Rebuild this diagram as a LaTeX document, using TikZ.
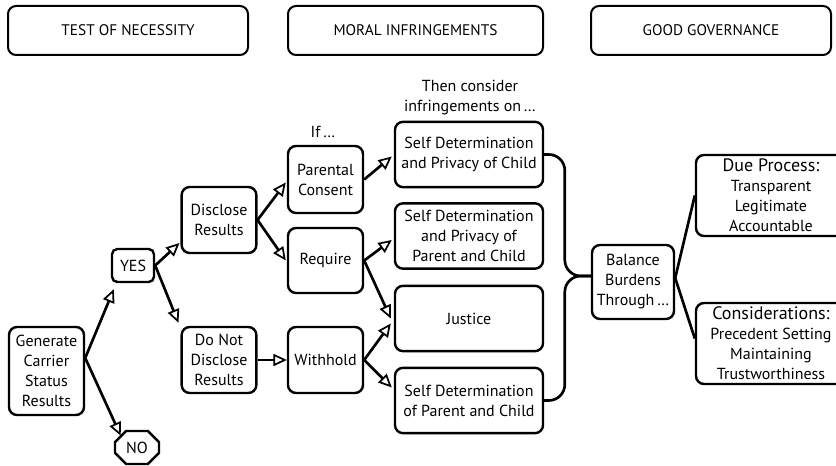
\documentclass[tikz,border=0pt]{standalone}
\usepackage{fontspec}
\setmainfont{PT Sans}
\usepackage{tikz}
\usetikzlibrary{arrows.meta,shapes.misc,calc}
\tikzset{every picture/.style={line width=0.75pt}}
\tikzset{
  box/.style={draw, rounded corners=6pt, line width=1.8pt, align=center, inner sep=1pt, font=\fontsize{12}{15}\selectfont},
  headbox/.style={box, line width=1.5pt, minimum width=180pt, minimum height=36.75pt, font=\fontsize{11.5}{14}\selectfont},
  smallbox/.style={box, minimum width=56pt, minimum height=49.5pt},
  widebox/.style={box, minimum width=111pt, minimum height=49pt},
  govbox/.style={box, minimum width=112.5pt, minimum height=60.75pt},
  link/.style={line width=2pt, -{Triangle[open,length=10pt,width=9pt,line width=1.3pt]}},
  bracket/.style={line width=2pt, rounded corners=12pt},
  plainlabel/.style={align=center, inner sep=0.75pt, font=\fontsize{12}{15}\selectfont},
}

\begin{document}
\begin{tikzpicture}[x=0.75pt,y=0.75pt,yscale=-1,xscale=1]
\useasboundingbox (0,0) rectangle (836,466);

% Header Nodes
\node [headbox] (test) at (128,30.5) {TEST OF NECESSITY};
\node [headbox, minimum width=191.25pt] (moral) at (415.5,30.5) {MORAL INFRINGEMENTS};
\node [headbox] (good) at (711,30.5) {GOOD GOVERNANCE};

% Test of necessity
\node [box, minimum width=56.25pt, minimum height=66pt] (gen) at (46.5,371) {Generate\\Carrier\\Status\\Results};
\node [box, rounded corners=4pt, minimum width=31.5pt, minimum height=24.75pt] (yes) at (133,265.5) {YES};
\node [draw, line width=1.8pt, chamfered rectangle, chamfered rectangle xsep=5pt, minimum width=31.5pt, minimum height=24.75pt, font=\fontsize{12}{15}\selectfont] (no) at (137,447.5) {NO};
\node [smallbox] (disc) at (219,220) {Disclose\\Results};
\node [smallbox] (dnd) at (219,360) {Do Not\\Disclose\\Results};

% Conditions
\node [plainlabel] (iflabel) at (323,132) {If\,\ldots};
\node [smallbox, minimum width=56.25pt, minimum height=50.25pt] (par) at (325.5,179.5) {Parental\\Consent};
\node [smallbox, minimum width=56.25pt, minimum height=48.75pt] (req) at (325.5,260.5) {Require};
\node [smallbox, minimum width=56.25pt] (wh) at (325.5,360) {Withhold};

% Moral infringements
\node [plainlabel] (thenlabel) at (470,98) {Then consider\\infringements on\,\ldots};
\node [widebox] (sdpc) at (469,154.5) {Self Determination\\and Privacy of Child};
\node [widebox] (sdppc) at (469,236) {Self Determination\\and Privacy of\\Parent and Child};
\node [widebox] (just) at (469,318.5) {Justice};
\node [widebox] (sdopc) at (469,400.5) {Self Determination\\of Parent and Child};

% Good governance
\node [box, minimum width=61.5pt, minimum height=55.5pt] (bal) at (633,282) {Balance\\Burdens\\Through\,\ldots};
\node [govbox] (due) at (771,195.5) {{\fontsize{13.5}{16}\selectfont Due Process:}\\Transparent\\Legitimate\\Accountable};
\node [govbox] (cons) at (771,343.5) {{\fontsize{13.5}{16}\selectfont Considerations:}\\Precedent Setting\\Maintaining\\Trustworthiness};

% Arrows
\coordinate (genout) at ($(gen.east)+(0,-13)$);
\draw [link] (genout) -- ($(yes.south west)+(3,6)$);
\draw [link] (genout) -- ($(no.north west)+(1,0)$);
\draw [link] (yes.east) -- ($(disc.west)+(-1,23)$);
\draw [link] (yes.east) -- ($(dnd.north west)+(-2,-3)$);
\draw [link] (disc.east) -- ($(par.west)+(-1,3)$);
\draw [link] (disc.east) -- ($(req.west)+(-1,0)$);
\draw [link] (dnd.east) -- (wh.west);
\draw [link] (par.east) -- ($(sdpc.west)+(-2,2)$);
\draw [link] (req.east) -- ($(sdppc.west)+(-2,4)$);
\draw [link] (req.east) -- ($(just.west)+(-3,0)$);
\draw [link] (wh.east) -- ($(just.west)+(-3,5)$);
\draw [link] (wh.east) -- ($(sdopc.west)+(-2,-13)$);

% Bracket into balance
\coordinate (meet) at ($(bal.west)+(0,-6)$);
\coordinate (spine) at ($(meet)+(-26,0)$);
\draw [bracket] (sdpc.east) -| (spine) -- (meet);
\draw [bracket] (sdopc.east) -| (spine) -- (meet);

% Governance lines
\draw [line width=2pt] ($(bal.east)+(0,-4)$) -- (due.west);
\draw [line width=2pt] ($(bal.east)+(0,-4)$) -- ($(cons.west)+(0,-5)$);

\end{tikzpicture}
\end{document}
